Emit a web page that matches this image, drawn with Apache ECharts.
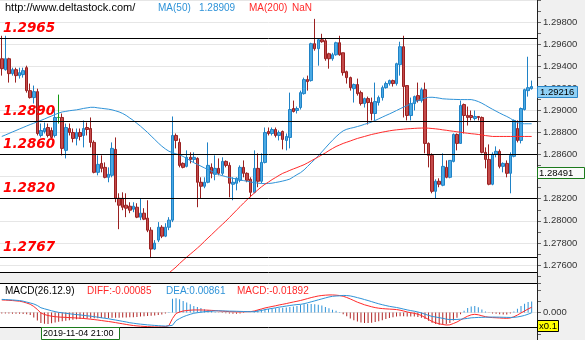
<!DOCTYPE html>
<html>
<head>
<meta charset="utf-8">
<script src="https://cdn.jsdelivr.net/npm/echarts@6/dist/echarts.min.js"></script>
<style>
  html, body { margin: 0; padding: 0; background: #ffffff; }
  #chart { width: 585px; height: 340px; }
</style>
</head>
<body>
<div id="chart"></div>
<script>
// price bars: [open, close, low, high]
const candles = [
  [1.29468,1.29378,1.29315,1.29676],[1.29369,1.29468,1.29360,1.29676],[1.29468,1.29333,1.29252,1.29477],
  [1.29333,1.29369,1.29315,1.29387],[1.29369,1.29315,1.29252,1.29387],[1.29315,1.29342,1.29288,1.29387],
  [1.29324,1.29360,1.29297,1.29387],[1.29387,1.29179,1.29161,1.29405],[1.29179,1.29116,1.29107,1.29243],
  [1.29116,1.29170,1.29062,1.29225],[1.29170,1.28791,1.28773,1.29197],[1.28773,1.28818,1.28755,1.28881],
  [1.28809,1.28836,1.28791,1.28890],[1.28845,1.28773,1.28755,1.28881],[1.28818,1.28755,1.28746,1.28845],
  [1.28773,1.28936,1.28755,1.29017],[1.28936,1.28936,1.28881,1.29143],[1.28936,1.28656,1.28593,1.28972],
  [1.28638,1.28845,1.28565,1.28881],[1.28836,1.28800,1.28773,1.28881],[1.28800,1.28746,1.28710,1.28836],
  [1.28746,1.28800,1.28683,1.28836],[1.28800,1.28764,1.28728,1.28836],[1.28773,1.28836,1.28665,1.28909],
  [1.28845,1.28827,1.28773,1.28890],[1.28836,1.28710,1.28665,1.28936],[1.28710,1.28439,1.28430,1.28728],
  [1.28439,1.28511,1.28412,1.28593],[1.28520,1.28475,1.28439,1.28593],[1.28484,1.28394,1.28385,1.28529],
  [1.28394,1.28421,1.28349,1.28484],[1.28412,1.28656,1.28394,1.28710],[1.28647,1.28204,1.28168,1.28755],
  [1.28204,1.28141,1.27924,1.28249],[1.28204,1.28123,1.28096,1.28258],[1.28141,1.28114,1.28033,1.28249],
  [1.28132,1.28096,1.28069,1.28168],[1.28105,1.28132,1.28078,1.28168],[1.28123,1.28033,1.28024,1.28159],
  [1.28033,1.28069,1.28006,1.28204],[1.28069,1.28015,1.28006,1.28114],[1.28024,1.27915,1.27897,1.28186],
  [1.27915,1.27744,1.27662,1.27942],[1.27744,1.27798,1.27735,1.27825],[1.27825,1.27942,1.27807,1.27988],
  [1.27942,1.27861,1.27843,1.27960],[1.27861,1.27942,1.27852,1.27978],[1.27942,1.28006,1.27915,1.28033],
  [1.28006,1.28773,1.27988,1.28945],[1.28773,1.28728,1.28656,1.28791],[1.28710,1.28502,1.28484,1.28746],
  [1.28520,1.28484,1.28475,1.28529],[1.28493,1.28575,1.28484,1.28638],[1.28575,1.28556,1.28520,1.28620],
  [1.28556,1.28575,1.28529,1.28620],[1.28565,1.28349,1.28123,1.28575],[1.28349,1.28313,1.28204,1.28394],
  [1.28313,1.28349,1.28295,1.28394],[1.28349,1.28502,1.28340,1.28710],[1.28484,1.28430,1.28385,1.28520],
  [1.28421,1.28475,1.28367,1.28593],[1.28475,1.28430,1.28412,1.28565],[1.28430,1.28538,1.28412,1.28575],
  [1.28538,1.28502,1.28484,1.28547],[1.28502,1.28340,1.28213,1.28529],[1.28331,1.28349,1.28186,1.28394],
  [1.28340,1.28385,1.28276,1.28394],[1.28367,1.28484,1.28349,1.28502],[1.28484,1.28430,1.28394,1.28547],
  [1.28430,1.28367,1.28349,1.28439],[1.28376,1.28258,1.28213,1.28394],[1.28258,1.28475,1.28249,1.28638],
  [1.28475,1.28358,1.28304,1.28611],[1.28358,1.28529,1.28340,1.28611],[1.28529,1.28800,1.28520,1.28845],
  [1.28809,1.28791,1.28773,1.28845],[1.28791,1.28827,1.28773,1.28845],[1.28827,1.28773,1.28755,1.28845],
  [1.28773,1.28800,1.28728,1.28818],[1.28809,1.28737,1.28647,1.28818],[1.28728,1.28764,1.28638,1.28791],
  [1.28755,1.29008,1.28656,1.29161],[1.29017,1.28990,1.28981,1.29089],[1.28999,1.29017,1.28972,1.29035],
  [1.29026,1.29161,1.29008,1.29179],[1.29152,1.29279,1.29143,1.29297],[1.29279,1.29261,1.29179,1.29315],
  [1.29270,1.29604,1.29261,1.29613],[1.29604,1.29559,1.29541,1.29829],[1.29559,1.29640,1.29405,1.29649],
  [1.29640,1.29622,1.29613,1.29694],[1.29631,1.29468,1.29450,1.29649],[1.29513,1.29468,1.29378,1.29522],
  [1.29468,1.29504,1.29450,1.29522],[1.29504,1.29613,1.29495,1.29622],[1.29613,1.29504,1.29495,1.29676],
  [1.29522,1.29342,1.29315,1.29522],[1.29351,1.29297,1.29243,1.29360],[1.29297,1.29206,1.29179,1.29306],
  [1.29197,1.29234,1.29071,1.29243],[1.29234,1.29152,1.29134,1.29288],[1.29161,1.29062,1.29044,1.29179],
  [1.29062,1.29107,1.29026,1.29116],[1.29107,1.29071,1.28872,1.29125],[1.29071,1.28972,1.28909,1.29116],
  [1.28972,1.29080,1.28909,1.29252],[1.29071,1.29116,1.29044,1.29134],[1.29116,1.29206,1.29089,1.29225],
  [1.29206,1.29243,1.29197,1.29261],[1.29243,1.29270,1.29225,1.29279],[1.29270,1.29243,1.29216,1.29279],
  [1.29243,1.29423,1.29225,1.29432],[1.29414,1.29577,1.29315,1.29622],[1.29577,1.29216,1.28936,1.29676],
  [1.29225,1.28954,1.28909,1.29225],[1.28954,1.29062,1.28909,1.29116],[1.29062,1.29125,1.28999,1.29134],
  [1.29134,1.29089,1.29071,1.29252],[1.29089,1.29188,1.29071,1.29206],[1.29188,1.28701,1.28611,1.29252],
  [1.28701,1.28593,1.28484,1.28710],[1.28593,1.28267,1.28249,1.28611],[1.28267,1.28358,1.28204,1.28376],
  [1.28358,1.28331,1.28304,1.28385],[1.28322,1.28493,1.28313,1.28611],[1.28484,1.28394,1.28385,1.28547],
  [1.28394,1.28547,1.28385,1.28547],[1.28538,1.28782,1.28529,1.28791],[1.28782,1.28701,1.28638,1.28791],
  [1.28701,1.29044,1.28701,1.29089],[1.29053,1.28954,1.28791,1.29062],[1.28954,1.28936,1.28863,1.29035],
  [1.28954,1.28936,1.28909,1.28999],[1.28927,1.28945,1.28909,1.28999],[1.28945,1.28936,1.28909,1.28945],
  [1.28936,1.28620,1.28611,1.28945],[1.28620,1.28556,1.28475,1.28665],[1.28556,1.28331,1.28322,1.28692],
  [1.28331,1.28602,1.28322,1.28620],[1.28602,1.28629,1.28575,1.28674],[1.28629,1.28493,1.28475,1.28647],
  [1.28493,1.28520,1.28439,1.28529],[1.28520,1.28430,1.28394,1.28547],[1.28430,1.28593,1.28249,1.28620],
  [1.28584,1.28909,1.28575,1.28918],[1.28836,1.28728,1.28710,1.28909],[1.28728,1.29017,1.28701,1.29026],
  [1.29008,1.29188,1.28999,1.29197],[1.29179,1.29206,1.29125,1.29486],[1.29197,1.29216,1.29188,1.29270]
];

// index of the bar picked by the cursor (drawn green)
const cursorBar = 16;

const ma50 = [
  1.28764,1.28777,1.28791,1.28805,1.28818,1.28832,1.28845,1.28859,1.28872,1.28884,
  1.28897,1.28909,1.28922,1.28936,1.28949,1.28963,1.28976,1.28986,1.28991,1.28997,
  1.29001,1.29005,1.29011,1.29018,1.29023,1.29028,1.29028,1.29023,1.29019,1.29015,
  1.29011,1.29005,1.28996,1.28986,1.28972,1.28954,1.28931,1.28909,1.28883,1.28857,
  1.28829,1.28800,1.28768,1.28737,1.28705,1.28676,1.28651,1.28630,1.28617,1.28606,
  1.28597,1.28583,1.28565,1.28545,1.28526,1.28511,1.28495,1.28479,1.28464,1.28448,
  1.28432,1.28419,1.28409,1.28400,1.28392,1.28385,1.28378,1.28370,1.28364,1.28358,
  1.28351,1.28346,1.28341,1.28338,1.28337,1.28338,1.28341,1.28347,1.28353,1.28360,
  1.28368,1.28378,1.28398,1.28418,1.28436,1.28461,1.28493,1.28525,1.28556,1.28588,
  1.28624,1.28660,1.28696,1.28730,1.28762,1.28791,1.28815,1.28829,1.28838,1.28845,
  1.28854,1.28863,1.28874,1.28884,1.28895,1.28909,1.28924,1.28939,1.28954,1.28968,
  1.28983,1.28999,1.29015,1.29030,1.29044,1.29059,1.29074,1.29089,1.29100,1.29111,
  1.29118,1.29119,1.29116,1.29111,1.29105,1.29103,1.29101,1.29100,1.29099,1.29098,
  1.29098,1.29098,1.29098,1.29091,1.29080,1.29065,1.29047,1.29028,1.29010,1.28993,
  1.28976,1.28960,1.28945,1.28928,1.28906,1.28890,1.28880,1.28879,1.28879,1.28879
];

const ma200 = [
  null,null,null,null,null,null,null,null,null,null,
  null,null,null,null,null,null,null,null,null,null,
  null,null,null,null,null,null,null,null,null,null,
  null,null,null,null,null,null,null,null,null,null,
  null,null,null,null,null,null,1.27500,1.27527,1.27554,1.27581,
  1.27613,1.27642,1.27671,1.27698,1.27725,1.27753,1.27782,1.27814,1.27845,1.27875,
  1.27906,1.27937,1.27967,1.27997,1.28030,1.28062,1.28096,1.28128,1.28161,1.28192,
  1.28222,1.28251,1.28280,1.28307,1.28331,1.28351,1.28373,1.28392,1.28412,1.28430,
  1.28443,1.28457,1.28470,1.28482,1.28495,1.28508,1.28525,1.28543,1.28561,1.28579,
  1.28597,1.28615,1.28636,1.28655,1.28673,1.28687,1.28701,1.28712,1.28723,1.28735,
  1.28746,1.28755,1.28764,1.28773,1.28782,1.28789,1.28796,1.28803,1.28809,1.28815,
  1.28820,1.28824,1.28827,1.28830,1.28833,1.28835,1.28837,1.28839,1.28840,1.28841,
  1.28839,1.28836,1.28833,1.28829,1.28824,1.28820,1.28815,1.28811,1.28806,1.28802,
  1.28797,1.28793,1.28789,1.28786,1.28782,1.28777,1.28772,1.28768,1.28764,1.28764,
  1.28764,1.28764,1.28764,1.28764,1.28764,1.28764,1.28764,1.28764,1.28764,1.28764
];

const diffLine = [
  0.0228,0.0225,0.0221,0.0217,0.0211,0.0205,0.0192,0.0172,0.0150,0.0109,
  0.0055,-0.00085,-0.0036,-0.0055,-0.0067,-0.0076,-0.0082,-0.0086,-0.0089,-0.0093,
  -0.0096,-0.0100,-0.0104,-0.0109,-0.0115,-0.0122,-0.0129,-0.0137,-0.0146,-0.0155,
  -0.0164,-0.0173,-0.0184,-0.0195,-0.0206,-0.0217,-0.0228,-0.0237,-0.0244,-0.0249,
  -0.0253,-0.0257,-0.0260,-0.0262,-0.0262,-0.0260,-0.0257,-0.0237,-0.0109,-0.0018,
  0.0009,0.0027,0.0036,0.0042,0.0046,0.0046,0.0046,0.0044,0.0042,0.0038,
  0.0035,0.0029,0.0024,0.0020,0.0016,0.0013,0.0011,0.0011,0.0013,0.0015,
  0.0016,0.0027,0.0046,0.0064,0.0082,0.0096,0.0109,0.0122,0.0137,0.0149,
  0.0162,0.0177,0.0191,0.0204,0.0218,0.0235,0.0253,0.0271,0.0286,0.0300,
  0.0309,0.0315,0.0319,0.0319,0.0315,0.0308,0.0295,0.0273,0.0246,0.0217,
  0.0187,0.0164,0.0140,0.0122,0.0104,0.0089,0.0078,0.0071,0.0066,0.0062,
  0.0058,0.0053,0.0042,0.0027,0.0009,-0.0004,-0.0015,-0.0031,-0.0055,-0.0091,
  -0.0127,-0.0164,-0.0187,-0.0206,-0.0218,-0.0228,-0.0224,-0.0200,-0.0173,-0.0137,
  -0.0100,-0.0067,-0.0042,-0.0033,-0.0042,-0.0060,-0.0076,-0.0087,-0.0093,-0.0096,
  -0.0100,-0.0104,-0.0106,-0.0100,-0.0078,-0.0046,-0.0009,0.0027,0.0064,0.0095
];

const deaLine = [
  0.0238,0.0235,0.0231,0.0228,0.0222,0.0217,0.0206,0.0189,0.0173,0.0155,
  0.0127,0.00861,0.0067,0.0049,0.0031,0.0016,0.0002,-0.0006,-0.0014,-0.0023,
  -0.0031,-0.0038,-0.0044,-0.0052,-0.0060,-0.0067,-0.0077,-0.0085,-0.0096,-0.0105,
  -0.0114,-0.0126,-0.0137,-0.0148,-0.0161,-0.0172,-0.0186,-0.0195,-0.0204,-0.0212,
  -0.0218,-0.0225,-0.0230,-0.0235,-0.0240,-0.0243,-0.0247,-0.0242,-0.0233,-0.0148,
  -0.0111,-0.0078,-0.0054,-0.0033,-0.0014,-0.0004,0.0006,0.0014,0.0020,0.0023,
  0.0029,0.0031,0.0029,0.0027,0.0025,0.0024,0.0022,0.0020,0.0018,0.0016,
  0.0015,0.0015,0.0024,0.0036,0.0052,0.0064,0.0074,0.0085,0.0097,0.0107,
  0.0117,0.0127,0.0136,0.0144,0.0148,0.0160,0.0176,0.0194,0.0211,0.0230,
  0.0247,0.0265,0.0282,0.0294,0.0300,0.0303,0.0310,0.0308,0.0301,0.0287,
  0.0270,0.0254,0.0235,0.0217,0.0197,0.0177,0.0158,0.0141,0.0126,0.0112,
  0.0101,0.0091,0.0077,0.0062,0.0047,0.0034,0.0023,0.0009,-0.0008,-0.0031,
  -0.0052,-0.0072,-0.0082,-0.0094,-0.0106,-0.0121,-0.0129,-0.0128,-0.0126,-0.0122,
  -0.0115,-0.0107,-0.0097,-0.0093,-0.0090,-0.0088,-0.0086,-0.0085,-0.0083,-0.0084,
  -0.0085,-0.0087,-0.0089,-0.0090,-0.0088,-0.0081,-0.0069,-0.0053,-0.0031,-0.0005
];

const macdBars = [
  -0.0020,-0.0020,-0.0020,-0.0022,-0.0022,-0.0024,-0.0028,-0.0034,-0.0046,-0.0092,
  -0.0144,-0.01892,-0.0206,-0.0208,-0.0196,-0.0184,-0.0168,-0.0160,-0.0150,-0.0140,
  -0.0130,-0.0125,-0.0120,-0.0115,-0.0110,-0.0110,-0.0105,-0.0105,-0.0100,-0.0100,
  -0.0100,-0.0095,-0.0095,-0.0095,-0.0090,-0.0090,-0.0085,-0.0085,-0.0080,-0.0075,
  -0.0070,-0.0065,-0.0060,-0.0055,-0.0045,-0.0035,-0.0020,0.0010,0.0248,0.0260,
  0.0240,0.0210,0.0180,0.0150,0.0120,0.0100,0.0080,0.0060,0.0045,0.0030,
  0.0012,-0.0004,-0.0010,-0.0014,-0.0018,-0.0022,-0.0022,-0.0018,-0.0010,-0.0002,
  0.0002,0.0025,0.0045,0.0055,0.0060,0.0065,0.0070,0.0075,0.0080,0.0085,
  0.0090,0.0100,0.0110,0.0120,0.0140,0.0150,0.0155,0.0155,0.0150,0.0140,
  0.0125,0.0100,0.0075,0.0050,0.0030,0.0010,-0.0030,-0.0070,-0.0110,-0.0140,
  -0.0165,-0.0180,-0.0190,-0.0190,-0.0185,-0.0175,-0.0160,-0.0140,-0.0120,-0.0100,
  -0.0085,-0.0075,-0.0070,-0.0070,-0.0075,-0.0075,-0.0075,-0.0080,-0.0095,-0.0120,
  -0.0150,-0.0185,-0.0210,-0.0225,-0.0225,-0.0215,-0.0190,-0.0145,-0.0095,-0.0030,
  0.0030,0.0080,0.0110,0.0120,0.0095,0.0055,0.0020,-0.0005,-0.0020,-0.0025,
  -0.0030,-0.0035,-0.0035,-0.0020,0.0020,0.0070,0.0120,0.0160,0.0190,0.0200
];

// support / resistance levels drawn across the price panel
const levels = [1.2965, 1.2890, 1.2860, 1.2820, 1.2767];
const levelLabels = ['1.2965', '1.2890', '1.2860', '1.2820', '1.2767'];

// one spare slot after the last bar
const slots = Array.from({ length: candles.length + 1 }, (_, i) => String(i + 1));

const lastPrice = 1.29216;
const cursorPrice = 1.28491;
const cursorTime = '2019-11-04 21:00';

const UP = '#4aa9e4', UP_EDGE = '#1f82c6';
const DOWN = '#c44a4a', DOWN_EDGE = '#9a2020';
const BLUE = '#2f93d8', RED = '#ff2a2a';
const FONT = 'Liberation Sans, Arial, sans-serif';

const candleData = candles.map((c, i) => i === cursorBar
  ? { value: c, itemStyle: { color: '#119911', color0: '#119911', borderColor: '#119911', borderColor0: '#119911' } }
  : c);

const chart = echarts.init(document.getElementById('chart'), null, { renderer: 'canvas' });

const priceTicks = (v) => {
  const k = Math.round(v * 1000);
  return (k % 2 === 0 && k < 1300) ? v.toFixed(5) : '';
};

chart.setOption({
  animation: false,
  backgroundColor: '#ffffff',
  grid: [
    { left: 0, width: 537, top: -1, height: 277 },
    { left: 0, width: 537, top: 283, height: 51.5 }
  ],
  xAxis: [
    { type: 'category', gridIndex: 0, data: slots, boundaryGap: true,
      axisLine: { show: false }, axisTick: { show: false }, axisLabel: { show: false }, splitLine: { show: false } },
    { type: 'category', gridIndex: 1, data: slots, boundaryGap: true,
      axisLine: { show: false }, axisTick: { show: false }, axisLabel: { show: false }, splitLine: { show: false } }
  ],
  yAxis: [
    { type: 'value', gridIndex: 0, position: 'right', min: 1.275, max: 1.300, interval: 0.001,
      axisLine: { show: true, lineStyle: { color: '#222', width: 1 } },
      axisTick: { show: true, length: 4, lineStyle: { color: '#666' } },
      axisLabel: { show: true, margin: 6, color: '#333', fontFamily: FONT, fontSize: 9.5, formatter: priceTicks },
      splitLine: { show: true, lineStyle: { color: ['rgba(0,0,0,0)', '#e6e6e6'], width: 1 } } },
    { type: 'value', gridIndex: 1, position: 'right', min: -0.04, max: 0.0536, interval: 0.02,
      axisLine: { show: true, lineStyle: { color: '#222', width: 1 } },
      axisTick: { show: true, length: 4, lineStyle: { color: '#666' } },
      axisLabel: { show: true, margin: 6, color: '#333', fontFamily: FONT, fontSize: 9.5,
        formatter: (v) => (Math.abs(v) < 1e-9 ? '0.000' : '') },
      splitLine: { show: true, lineStyle: { color: ['rgba(0,0,0,0)', 'rgba(0,0,0,0)', '#e6e6e6', 'rgba(0,0,0,0)', 'rgba(0,0,0,0)', 'rgba(0,0,0,0)'] } } }
  ],
  series: [
    { name: 'price', type: 'candlestick', xAxisIndex: 0, yAxisIndex: 0, data: candleData, barWidth: 3,
      itemStyle: { color: UP, color0: DOWN, borderColor: UP_EDGE, borderColor0: DOWN_EDGE, borderWidth: 1 },
      markLine: {
        silent: true, symbol: ['none', 'none'], animation: false, precision: 4,
        lineStyle: { color: '#000', width: 1, type: 'solid' },
        label: { show: true, position: 'insideStartTop', distance: 3, color: '#ff0000',
          fontFamily: 'DejaVu Sans, Verdana, sans-serif', fontSize: 13.5, fontWeight: 'bold', fontStyle: 'italic' },
        data: levels.map((v, i) => ({ yAxis: v, label: { formatter: levelLabels[i] } }))
      }
    },
    { name: 'MA(50)', type: 'line', xAxisIndex: 0, yAxisIndex: 0, data: ma50, symbol: 'none',
      lineStyle: { color: BLUE, width: 1 }, z: 3 },
    { name: 'MA(200)', type: 'line', xAxisIndex: 0, yAxisIndex: 0, data: ma200, symbol: 'none',
      lineStyle: { color: RED, width: 1 }, z: 3 },
    { name: 'MACD', type: 'bar', xAxisIndex: 1, yAxisIndex: 1, barWidth: 1,
      data: macdBars.map((v) => ({ value: v, itemStyle: { color: v >= 0 ? BLUE : '#b02626' } })) },
    { name: 'DIFF', type: 'line', xAxisIndex: 1, yAxisIndex: 1, data: diffLine, symbol: 'none',
      lineStyle: { color: RED, width: 1 }, z: 4 },
    { name: 'DEA', type: 'line', xAxisIndex: 1, yAxisIndex: 1, data: deaLine, symbol: 'none',
      lineStyle: { color: BLUE, width: 1 }, z: 4 }
  ]
});

// frame, header texts and value tags
const yLast = chart.convertToPixel({ yAxisIndex: 0 }, lastPrice);
const yCursor = chart.convertToPixel({ yAxisIndex: 0 }, cursorPrice);

const txt = (x, y, text, color, size) => ({
  type: 'text', x: x, y: y, z: 150,
  style: { text: text, fill: color, font: size + 'px ' + FONT, textVerticalAlign: 'middle' }
});

chart.setOption({
  graphic: [
    { type: 'rect', z: -10, shape: { x: 537, y: 0, width: 48, height: 340 }, style: { fill: '#f0f0f0' } },
    { type: 'rect', z: 100, shape: { x: 0, y: 272, width: 537, height: 11 }, style: { fill: '#f0f0f0' } },
    { type: 'rect', z: 100, shape: { x: 0, y: 327, width: 537, height: 13 }, style: { fill: '#f0f0f0' } },
    { type: 'line', z: 110, shape: { x1: 0, y1: 272.5, x2: 537, y2: 272.5 }, style: { stroke: '#000', lineWidth: 1 } },
    { type: 'line', z: 110, shape: { x1: 0, y1: 283.5, x2: 537, y2: 283.5 }, style: { stroke: '#000', lineWidth: 1 } },
    { type: 'line', z: 110, shape: { x1: 0, y1: 327.5, x2: 537, y2: 327.5 }, style: { stroke: '#000', lineWidth: 1 } },
    { type: 'line', z: 110, shape: { x1: 537.5, y1: 0, x2: 537.5, y2: 340 }, style: { stroke: '#222', lineWidth: 1 } },

    txt(5, 8, 'http://www.deltastock.com/', '#000', 11),
    txt(158, 8, 'MA(50)', BLUE, 10),
    txt(199, 8, '1.28909', BLUE, 10),
    txt(249, 8, 'MA(200)', RED, 10),
    txt(292, 8, 'NaN', RED, 10),

    txt(5, 291, 'MACD(26.12.9)', '#000', 10),
    txt(87, 291, 'DIFF:-0.00085', RED, 10),
    txt(166, 291, 'DEA:0.00861', BLUE, 10),
    txt(237, 291, 'MACD:-0.01892', RED, 10),

    { type: 'rect', z: 130, shape: { x: 537.5, y: Math.round(yLast) - 0.5, width: 40, height: 11 },
      style: { fill: '#8fd0f5', stroke: '#2a86c8', lineWidth: 1 } },
    txt(540, Math.round(yLast) + 5, lastPrice.toFixed(5), '#000', 9.5),
    { type: 'rect', z: 130, shape: { x: 537.5, y: Math.round(yCursor) + 0.5, width: 47, height: 11 },
      style: { fill: '#fafafa', stroke: '#1c7a1c', lineWidth: 1 } },
    txt(539, Math.round(yCursor) + 6, cursorPrice.toFixed(5), '#000', 9.5),

    { type: 'rect', z: 130, shape: { x: 537.5, y: 320.5, width: 21, height: 11 },
      style: { fill: '#ffff00', stroke: '#000', lineWidth: 1 } },
    txt(539, 326, 'x0.1', '#000', 9.5),

    { type: 'rect', z: 130, shape: { x: 41.5, y: 327.5, width: 78, height: 12 },
      style: { fill: '#ffffff', stroke: '#1c7a1c', lineWidth: 1 } },
    txt(43, 334, cursorTime, '#000', 9)
  ]
});
</script>
</body>
</html>
